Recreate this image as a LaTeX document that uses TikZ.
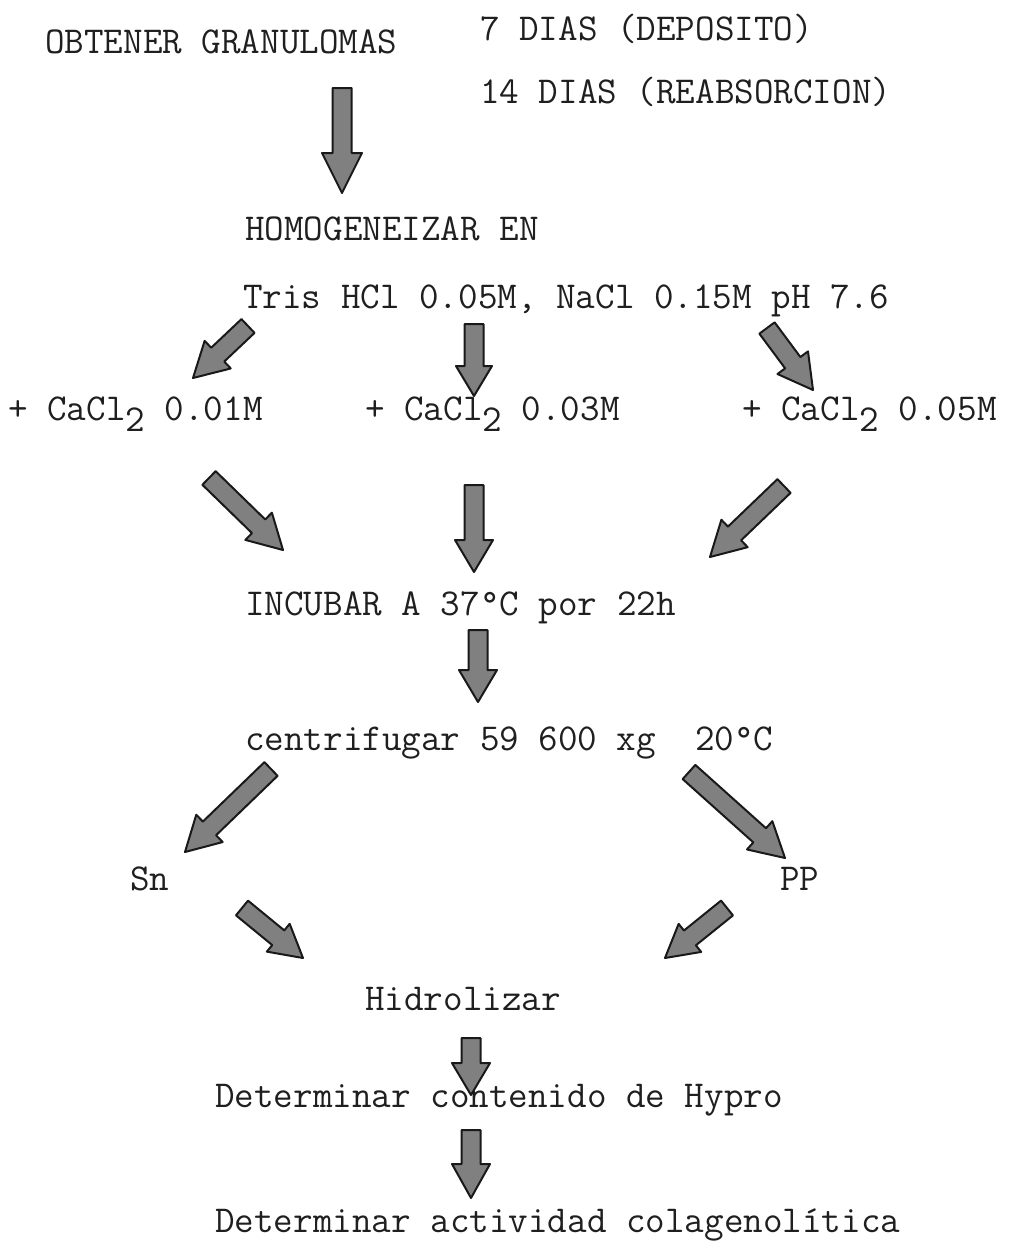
\documentclass[tikz,border=0pt]{standalone}
\usepackage{fontspec}
\usetikzlibrary{calc}
\tikzset{
  txt/.style={anchor=base west, inner sep=0pt, text=black!88,
    font=\ttfamily\fontsize{38}{45}\selectfont},
  fatarrow/.style={fill=black!50, draw=black!90, line width=2pt, line join=round}
}
% #1 tail coordinate, #2 tip coordinate, #3 head length, #4 head half width
\newcommand\fatarrowdraw[4]{%
  \coordinate (hb) at ($(#2)!#3!(#1)$);
  \draw[fatarrow]
    ($(#1)!9.5pt!90:(#2)$) -- ($(hb)!9.5pt!-90:(#1)$) -- ($(hb)!#4!-90:(#1)$)
    -- (#2) -- ($(hb)!#4!90:(#1)$) -- ($(hb)!9.5pt!90:(#1)$)
    -- ($(#1)!9.5pt!-90:(#2)$) -- cycle;}
\begin{document}
\begin{tikzpicture}[x=1pt,y=-1pt]
\useasboundingbox (0,0) rectangle (1032,1256);
% texts
\node[txt] (obt) at (45,53) {OBTENER GRANULOMAS};
\node[txt] (d7) at (480,40) {7 DIAS (DEPOSITO)};
\node[txt] (d14) at (480,103) {14 DIAS (REABSORCION)};
\node[txt] (hom) at (245,240) {HOMOGENEIZAR EN};
\node[txt] (tris) at (243,308) {Tris HCl 0.05M, NaCl 0.15M pH 7.6};
\node[txt] (c1) at (8,420) {+ CaCl\raisebox{-11pt}{2} 0.01M};
\node[txt] (c3) at (365,420) {+ CaCl\raisebox{-11pt}{2} 0.03M};
\node[txt] (c5) at (742,420) {+ CaCl\raisebox{-11pt}{2} 0.05M};
\node[txt] (inc) at (245,615) {INCUBAR A 37°C por 22h};
\node[txt] (cen) at (245,750) {centrifugar 59 600 xg~~20°C};
\node[txt] (sn) at (130,890) {Sn};
\node[txt] (pp) at (780,890) {PP};
\node[txt] (hid) at (365,1010) {Hidrolizar};
\node[txt] (det) at (215,1107) {Determinar contenido de Hypro};
\node[txt] (act) at (215,1232) {Determinar actividad colagenolítica};
% arrow end points
\coordinate (a1t) at (342,88);  \coordinate (a1h) at (342,193);
\coordinate (a2t) at (248,326); \coordinate (a2h) at (193,378);
\coordinate (a3t) at (474,324); \coordinate (a3h) at (474,396);
\coordinate (a4t) at (767,328); \coordinate (a4h) at (813,390);
\coordinate (a5t) at (209,478); \coordinate (a5h) at (283,550);
\coordinate (a6t) at (474,485); \coordinate (a6h) at (474,572);
\coordinate (a7t) at (784,486); \coordinate (a7h) at (710,557);
\coordinate (a8t) at (478,630); \coordinate (a8h) at (478,702);
\coordinate (a9t) at (271,769); \coordinate (a9h) at (185,852);
\coordinate (a10t) at (689,772); \coordinate (a10h) at (785,858);
\coordinate (a11t) at (242,908); \coordinate (a11h) at (303,958);
\coordinate (a12t) at (727,908); \coordinate (a12h) at (665,958);
\coordinate (a13t) at (471,1038); \coordinate (a13h) at (471,1095);
\coordinate (a14t) at (471,1130); \coordinate (a14h) at (471,1198);
\fatarrowdraw{a1t}{a1h}{40pt}{20pt}
\fatarrowdraw{a2t}{a2h}{34pt}{19pt}
\fatarrowdraw{a3t}{a3h}{30pt}{18pt}
\fatarrowdraw{a4t}{a4h}{34pt}{19pt}
\fatarrowdraw{a5t}{a5h}{34pt}{19pt}
\fatarrowdraw{a6t}{a6h}{32pt}{19pt}
\fatarrowdraw{a7t}{a7h}{34pt}{19pt}
\fatarrowdraw{a8t}{a8h}{32pt}{19pt}
\fatarrowdraw{a9t}{a9h}{34pt}{19pt}
\fatarrowdraw{a10t}{a10h}{34pt}{19pt}
\fatarrowdraw{a11t}{a11h}{32pt}{18pt}
\fatarrowdraw{a12t}{a12h}{32pt}{18pt}
\fatarrowdraw{a13t}{a13h}{32pt}{19pt}
\fatarrowdraw{a14t}{a14h}{34pt}{19pt}
\end{tikzpicture}
\end{document}
